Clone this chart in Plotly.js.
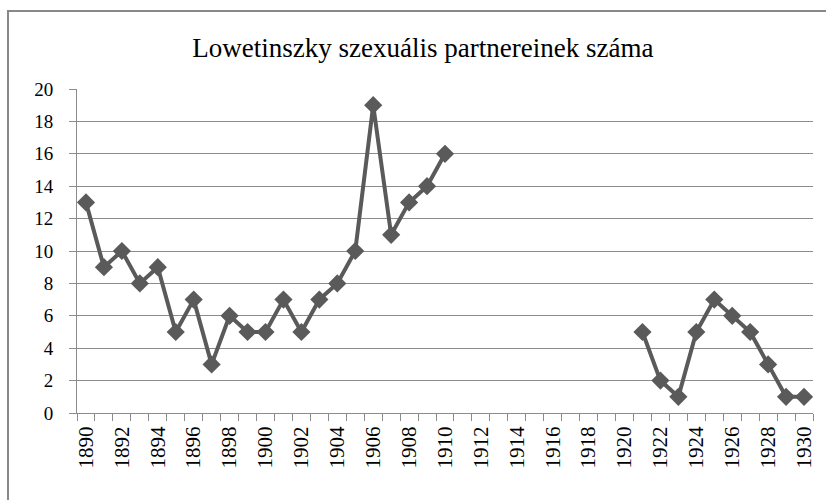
<!DOCTYPE html>
<html>
<head>
<meta charset="utf-8">
<script src="https://cdn.plot.ly/plotly-3.0.1.min.js"></script>
<style>
html,body{margin:0;padding:0;background:#fff;}
#chart{width:826px;height:500px;}
</style>
</head>
<body>
<div id="chart"></div>
<script>
var chartTitle = "Lowetinszky szexuális partnereinek száma";
var years = [1890,1891,1892,1893,1894,1895,1896,1897,1898,1899,1900,1901,1902,1903,1904,1905,1906,1907,1908,1909,1910,1911,1912,1913,1914,1915,1916,1917,1918,1919,1920,1921,1922,1923,1924,1925,1926,1927,1928,1929,1930];
var partners = [13,9,10,8,9,5,7,3,6,5,5,7,5,7,8,10,19,11,13,14,16,null,null,null,null,null,null,null,null,null,null,5,2,1,5,7,6,5,3,1,1];
var yTicks = [0,2,4,6,8,10,12,14,16,18,20];

var cats = years.map(String);
var tickText = years.map(function(y, i){ return i % 2 === 0 ? String(y) : ""; });
var SERIF = "'Liberation Serif', 'Times New Roman', Times, 'DejaVu Serif', serif";

var trace = {
  x: cats,
  y: partners,
  type: "scatter",
  mode: "lines+markers",
  connectgaps: false,
  line: {color: "#5a5a5a", width: 4},
  marker: {symbol: "diamond", size: 14, color: "#5a5a5a"},
  hoverinfo: "x+y"
};

var L = 77, R = 13, T = 89, B = 87;
var pw = 826 - L - R, ph = 500 - T - B;

var layout = {
  width: 826, height: 500,
  margin: {l: L, r: R, t: T, b: B, autoexpand: false},
  paper_bgcolor: "#ffffff",
  plot_bgcolor: "#ffffff",
  showlegend: false,
  font: {family: SERIF, color: "#000"},
  title: {
    text: chartTitle,
    font: {family: SERIF, size: 27, color: "#000"},
    xref: "container", x: 0.512, xanchor: "center",
    yref: "container", y: 0.905, yanchor: "middle"
  },
  xaxis: {
    type: "category",
    range: [-0.5, years.length - 0.5],
    autorange: false,
    automargin: false,
    tickmode: "array",
    tickvals: cats,
    ticktext: tickText,
    tickson: "boundaries",
    ticks: "outside",
    ticklen: 7,
    tickcolor: "#8c8c8c",
    tickangle: -90,
    tickfont: {family: SERIF, size: 21, color: "#000"},
    showgrid: false,
    showline: true,
    linecolor: "#8c8c8c",
    linewidth: 1,
    zeroline: false,
    ticklabelstandoff: 4,
    fixedrange: true
  },
  yaxis: {
    range: [0, 20],
    autorange: false,
    automargin: false,
    tickmode: "array",
    tickvals: yTicks,
    ticks: "outside",
    ticklen: 7,
    tickcolor: "#8c8c8c",
    tickfont: {family: SERIF, size: 19, color: "#000"},
    showgrid: true,
    gridcolor: "#8c8c8c",
    gridwidth: 1,
    showline: true,
    linecolor: "#8c8c8c",
    linewidth: 1,
    zeroline: false,
    ticklabelstandoff: 12,
    fixedrange: true
  },
  shapes: [{
    type: "rect",
    xref: "paper", yref: "paper",
    x0: (8 - L) / pw, x1: (840 - L) / pw,
    y0: (500 - B - 520) / ph, y1: (500 - B - 11) / ph,
    line: {color: "#888888", width: 2},
    fillcolor: "rgba(0,0,0,0)",
    layer: "below"
  }]
};

Plotly.newPlot("chart", [trace], layout, {displayModeBar: false, staticPlot: true});
</script>
</body>
</html>
